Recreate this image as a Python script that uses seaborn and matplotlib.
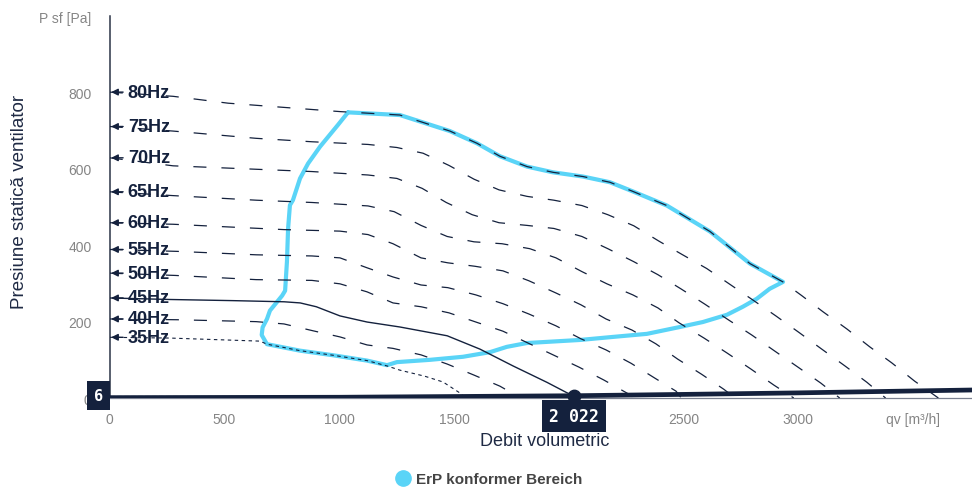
import matplotlib
matplotlib.use('Agg')
import matplotlib.pyplot as plt
from matplotlib.lines import Line2D
import seaborn as sns

sns.set_style('white')
plt.rcParams['font.family'] = ['Liberation Sans', 'DejaVu Sans']
plt.rcParams['lines.scale_dashes'] = False

navy = '#14213d'
blue = '#5ad4f7'

# fan curves: flow qv [m3/h], static pressure [Pa]
q_80 = [0, 276, 516, 759, 1003, 1264, 1482, 1600, 1700, 1818, 1931, 2061, 2179, 2279, 2427,
        2615, 2789, 2933, 3015, 3107, 3211, 3311, 3407, 3507, 3610]
p_80 = [801, 790, 772, 761, 750, 741, 699, 667, 633, 606, 591, 580, 565, 541, 504,
        436, 352, 304, 268, 226, 181, 134, 92, 44, 0]
q_75 = [0, 276, 638, 881, 1125, 1251, 1365, 1478, 1587, 1696, 1818, 1935, 2057, 2170, 2283,
        2392, 2493, 2601, 2701, 2801, 2902, 3002, 3102, 3203, 3299, 3380]
p_75 = [711, 699, 680, 671, 664, 656, 641, 609, 573, 545, 528, 518, 504, 480, 451,
        411, 376, 339, 298, 257, 215, 172, 128, 84, 41, 0]
q_70 = [0, 276, 638, 881, 1125, 1251, 1361, 1466, 1579, 1696, 1818, 1935, 2057, 2170, 2283,
        2388, 2488, 2592, 2697, 2797, 2897, 2998, 3098, 3180]
p_70 = [629, 608, 599, 593, 584, 575, 549, 512, 480, 459, 452, 444, 423, 391, 357,
        323, 286, 246, 204, 165, 123, 81, 39, 0]
q_65 = [0, 276, 638, 881, 1125, 1239, 1356, 1470, 1587, 1709, 1830, 1944, 2057, 2166, 2279,
        2388, 2480, 2589, 2689, 2793, 2893, 2980]
p_65 = [540, 530, 518, 512, 503, 488, 452, 423, 409, 404, 391, 367, 331, 299, 270,
        236, 197, 157, 118, 76, 34, 0]
q_60 = [0, 276, 516, 759, 1003, 1125, 1234, 1356, 1473, 1591, 1713, 1826, 1944, 2053, 2162,
        2275, 2379, 2474, 2579, 2675, 2725]
p_60 = [459, 455, 448, 441, 437, 428, 404, 367, 354, 345, 333, 307, 275, 244, 207,
        178, 142, 102, 62, 23, 0]
q_55 = [0, 294, 638, 881, 1003, 1121, 1234, 1356, 1473, 1595, 1713, 1826, 1944, 2053, 2162,
        2271, 2375, 2467, 2490]
p_55 = [389, 384, 375, 372, 367, 341, 317, 296, 289, 270, 247, 220, 189, 155, 126,
        91, 52, 18, 0]
q_50 = [0, 285, 638, 881, 1003, 1121, 1234, 1356, 1478, 1595, 1713, 1822, 1935, 2044, 2153,
        2262, 2285]
p_50 = [327, 321, 310, 308, 299, 278, 249, 239, 223, 199, 175, 144, 112, 81, 47, 10, 0]
q_45 = [0, 262, 538, 760, 830, 900, 1003, 1121, 1264, 1470, 1613, 1757, 1905, 1991, 2022]
p_45 = [262, 258, 255, 252, 249, 239, 215, 199, 186, 163, 128, 84, 41, 14, 6]
q_40 = [0, 293, 638, 759, 886, 1003, 1121, 1234, 1356, 1470, 1587, 1700, 1790]
p_40 = [207, 205, 200, 194, 176, 160, 139, 130, 113, 89, 60, 31, 0]
q_35 = [0, 262, 654, 685, 829, 973, 1121, 1208, 1264, 1373, 1452, 1521, 1550]
p_35 = [159, 157, 149, 141, 124, 112, 98, 84, 73, 57, 42, 15, 0]

# ErP conform area outline
erp_q = [1038, 1264, 1482, 1600, 1700, 1818, 1931, 2061, 2179, 2279,
         2427, 2615, 2789, 2933, 2875, 2819, 2758, 2689, 2584, 2484,
         2340, 2192, 2048, 1904, 1817, 1730, 1656, 1539, 1395, 1251,
         1208, 1121, 973, 829, 685, 662, 666, 685, 698, 751,
         764, 772, 777, 785, 798, 829, 864, 916, 994, 1038]
erp_p = [748, 741, 699, 667, 633, 606, 591, 580, 565, 541,
         504, 436, 352, 304, 286, 260, 239, 218, 199, 186,
         168, 160, 152, 147, 144, 134, 120, 108, 100, 94,
         86, 98, 112, 124, 141, 165, 185, 207, 229, 268,
         281, 357, 444, 505, 518, 575, 614, 658, 715, 748]

# system curve and operating point
sys_q = [0, 1000, 2022, 2500, 3000, 3500, 3756]
sys_p = [1, 2, 6, 9.5, 13.5, 18.5, 21]
op_q = 2022
op_p = 6

freq_labels = ['80Hz', '75Hz', '70Hz', '65Hz', '60Hz', '55Hz', '50Hz', '45Hz', '40Hz', '35Hz']
curves = [(q_80, p_80), (q_75, p_75), (q_70, p_70), (q_65, p_65), (q_60, p_60),
          (q_55, p_55), (q_50, p_50), (q_45, p_45), (q_40, p_40), (q_35, p_35)]

# the 2000 label sits under the operating point box in the reference
x_ticks = [0, 500, 1000, 1500, 2000, 2500, 3000, 3500]
x_labels = ['0', '500', '1000', '1500', '', '2500', '3000', 'qv [m³/h]']
y_ticks = [0, 200, 400, 600, 800, 1000]
y_labels = ['0', '200', '400', '600', '800', 'P sf [Pa]']

fig = plt.figure(figsize=(9.72, 4.89), dpi=100)
ax = fig.add_axes([0.1129, 0.184, 0.887, 0.781])

sns.lineplot(x=erp_q, y=erp_p, sort=False, estimator=None, color=blue, lw=3.0,
             ax=ax, zorder=2, legend=False)

for label, (q, p) in zip(freq_labels, curves):
    if label == '45Hz':
        ls = '-'
        lw = 1.0
    elif label == '35Hz':
        ls = (0, (2.5, 2.5))
        lw = 0.8
    else:
        ls = (0, (9.4, 10.8))
        lw = 0.9
    sns.lineplot(x=q, y=p, sort=False, estimator=None, color=navy, lw=lw, linestyle=ls,
                 ax=ax, zorder=3, legend=False)
    ax.annotate(label, xy=(0, p[0]), xytext=(13, 0), textcoords='offset points',
                ha='left', va='center', fontsize=13, fontweight='bold', color=navy,
                zorder=4,
                arrowprops=dict(arrowstyle='-|>', color=navy, lw=1.0, mutation_scale=10,
                                shrinkA=1, shrinkB=1))

# crosshair to operating point
ax.plot([0, op_q], [op_p, op_p], color=navy, lw=0.8, ls=(0, (3, 2)), zorder=4)
ax.plot([op_q, op_q], [0, op_p], color=navy, lw=0.8, ls=(0, (3, 2)), zorder=4)

sns.lineplot(x=sys_q, y=sys_p, color=navy, lw=3.4, ax=ax, zorder=5, legend=False)
ax.scatter([op_q], [op_p], s=80, color=navy, zorder=6, clip_on=False)

ax.annotate(str(op_p), xy=(0, op_p), xycoords=('axes fraction', 'data'),
            xytext=(-5, 0), textcoords='offset points', ha='right', va='center',
            fontsize=11, fontweight='bold', color='white', family='DejaVu Sans Mono',
            bbox=dict(boxstyle='square,pad=0.45', fc=navy, ec='none'), zorder=10,
            annotation_clip=False)
ax.annotate('2 022', xy=(op_q, 0), xycoords=('data', 'axes fraction'),
            xytext=(0, -6.5), textcoords='offset points', ha='center', va='top',
            fontsize=12, fontweight='bold', color='white', family='DejaVu Sans Mono',
            bbox=dict(boxstyle='square,pad=0.4', fc=navy, ec='none'), zorder=10,
            annotation_clip=False)

ax.set_xlim(0, 3756)
ax.set_ylim(0, 1000)
ax.set_xticks(x_ticks)
ax.set_xticklabels(x_labels)
ax.set_yticks(y_ticks)
ax.set_yticklabels(y_labels)
ax.tick_params(axis='both', colors='#5a6070', labelcolor='#858585', labelsize=10,
               length=8, width=1, direction='out')
ax.tick_params(axis='x', pad=2)
ax.tick_params(axis='y', pad=5)

for side in ['top', 'right']:
    ax.spines[side].set_visible(False)
ax.spines['left'].set_color('#2b3447')
ax.spines['left'].set_linewidth(1.1)
ax.spines['bottom'].set_color('#7a8090')
ax.spines['bottom'].set_linewidth(0.9)

ax.set_ylabel('Presiune statică ventilator', fontsize=13.5, color='#1f2a44')
ax.yaxis.set_label_coords(-0.095, 0.516)
ax.set_xlabel('Debit volumetric', fontsize=13, color='#1f2a44')
ax.xaxis.set_label_coords(0.505, -0.089)

handle = Line2D([], [], marker='o', color=blue, ls='none', markersize=11)
fig.legend(handles=[handle], labels=['ErP konformer Bereich'], loc='center',
           bbox_to_anchor=(488 / 972, 1 - 480 / 489), frameon=False,
           prop={'weight': 'bold', 'size': 11}, labelcolor='#444444',
           handletextpad=0.3, handlelength=1.2)

fig.savefig('out.png', dpi=100)
